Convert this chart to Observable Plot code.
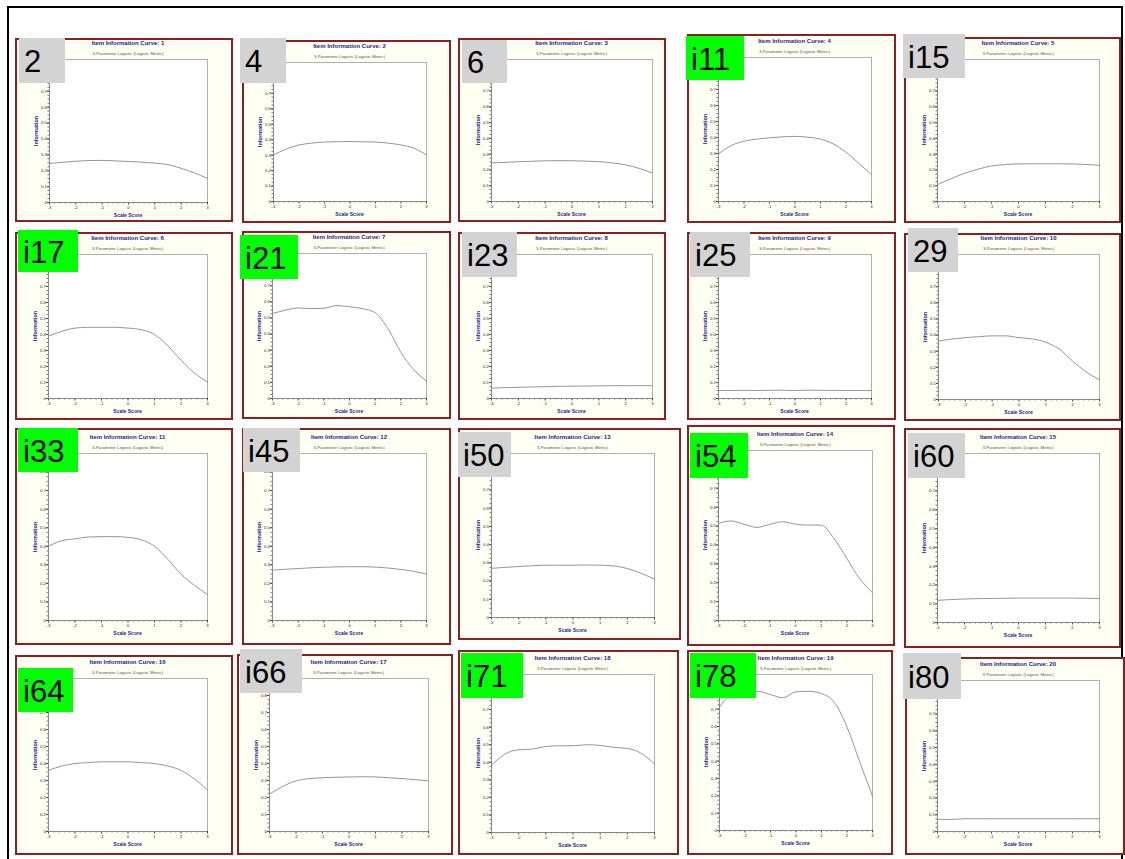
<!DOCTYPE html>
<html>
<head>
<meta charset="utf-8">
<script src="https://cdn.jsdelivr.net/npm/d3@7"></script>
<script src="https://cdn.jsdelivr.net/npm/@observablehq/plot@0.6"></script>
<style>
  html, body { margin: 0; padding: 0; background: #fff; }
  #root { position: relative; width: 1125px; height: 859px; overflow: hidden; background: #fff; }
  .abs { position: absolute; }
  .frame { box-sizing: border-box; border: 2px solid #8e1f1f; background: #fffff3; }
  .ttl { font-family: "Liberation Sans Narrow", "Liberation Sans", sans-serif; font-weight: bold; color: #1c1c8e; font-size: 6px; white-space: nowrap; transform: translate(-50%, -50%); }
  .sub { font-family: "Liberation Sans Narrow", "Liberation Sans", sans-serif; color: #555; font-size: 4.3px; white-space: nowrap; transform: translate(-50%, -50%); }
  .xl { font-family: "Liberation Sans Narrow", "Liberation Sans", sans-serif; font-weight: bold; color: #1c1c8e; font-size: 5px; white-space: nowrap; transform: translate(-50%, -50%); }
  .yl { font-family: "Liberation Sans Narrow", "Liberation Sans", sans-serif; font-weight: bold; color: #1c1c8e; font-size: 5.5px; white-space: nowrap; transform: translate(-50%, -50%) rotate(-90deg); }
  .lbl { box-sizing: border-box; font-family: "Liberation Sans", Arial, sans-serif; font-size: 31px; color: #000; display: flex; align-items: center; padding-left: 5px; padding-top: 3px; }
</style>
</head>
<body>
<div id="root"></div>
<script>
// ---- data ----
const theta = [-3, -2.5, -2, -1.5, -1, -0.5, 0, 0.5, 1, 1.5, 2, 2.5, 3];
const xTicks = [-3, -2, -1, 0, 1, 2, 3];
const yTicks = [0, 0.1, 0.2, 0.3, 0.4, 0.5, 0.6, 0.7, 0.8];
const itemLabels = ["2", "4", "6", "i11", "i15", "i17", "i21", "i23", "i25", "29",
                    "i33", "i45", "i50", "i54", "i60", "i64", "i66", "i71", "i78", "i80"];
const highlighted = ["i11", "i17", "i21", "i33", "i54", "i64", "i71", "i78"];
const modelName = "3-Parameter Logistic (Logistic Metric)";

const info1  = [0.246, 0.253, 0.260, 0.264, 0.265, 0.262, 0.258, 0.254, 0.248, 0.238, 0.215, 0.186, 0.152];
const info2  = [0.302, 0.340, 0.366, 0.378, 0.385, 0.387, 0.388, 0.387, 0.385, 0.378, 0.366, 0.345, 0.302];
const info3  = [0.245, 0.248, 0.252, 0.255, 0.258, 0.259, 0.258, 0.256, 0.252, 0.245, 0.232, 0.210, 0.180];
const info4  = [0.298, 0.350, 0.377, 0.390, 0.398, 0.404, 0.407, 0.402, 0.390, 0.360, 0.308, 0.239, 0.168];
const info5  = [0.106, 0.145, 0.178, 0.205, 0.225, 0.234, 0.238, 0.239, 0.239, 0.239, 0.238, 0.235, 0.229];
const info6  = [0.390, 0.420, 0.440, 0.445, 0.445, 0.445, 0.440, 0.430, 0.400, 0.330, 0.240, 0.160, 0.105];
const info7  = [0.527, 0.548, 0.562, 0.558, 0.560, 0.577, 0.569, 0.558, 0.533, 0.433, 0.287, 0.179, 0.108];
const info8  = [0.065, 0.068, 0.070, 0.072, 0.074, 0.076, 0.077, 0.078, 0.079, 0.080, 0.080, 0.080, 0.080];
const info9  = [0.050, 0.050, 0.051, 0.050, 0.051, 0.052, 0.050, 0.052, 0.051, 0.051, 0.050, 0.050, 0.050];
const info10 = [0.363, 0.375, 0.384, 0.390, 0.395, 0.395, 0.384, 0.376, 0.355, 0.313, 0.238, 0.171, 0.123];
const info11 = [0.400, 0.430, 0.440, 0.450, 0.452, 0.452, 0.448, 0.435, 0.400, 0.330, 0.250, 0.190, 0.140];
const info12 = [0.272, 0.276, 0.280, 0.284, 0.287, 0.289, 0.290, 0.290, 0.288, 0.283, 0.275, 0.265, 0.250];
const info13 = [0.270, 0.275, 0.280, 0.284, 0.287, 0.287, 0.287, 0.288, 0.287, 0.283, 0.269, 0.243, 0.210];
const info14 = [0.514, 0.527, 0.509, 0.493, 0.509, 0.523, 0.510, 0.505, 0.505, 0.434, 0.328, 0.222, 0.147];
const info15 = [0.118, 0.122, 0.125, 0.127, 0.128, 0.129, 0.130, 0.130, 0.130, 0.130, 0.130, 0.129, 0.128];
const info16 = [0.360, 0.385, 0.400, 0.405, 0.410, 0.410, 0.410, 0.405, 0.400, 0.385, 0.360, 0.310, 0.245];
const info17 = [0.220, 0.265, 0.298, 0.311, 0.316, 0.319, 0.321, 0.322, 0.321, 0.316, 0.311, 0.305, 0.298];
const info18 = [0.384, 0.447, 0.471, 0.475, 0.490, 0.494, 0.494, 0.500, 0.496, 0.485, 0.479, 0.452, 0.390];
const info19 = [0.713, 0.785, 0.800, 0.803, 0.784, 0.766, 0.800, 0.803, 0.790, 0.740, 0.597, 0.395, 0.198];
const info20 = [0.072, 0.072, 0.076, 0.076, 0.076, 0.076, 0.076, 0.076, 0.076, 0.076, 0.076, 0.076, 0.076];

const infoSeries = [info1, info2, info3, info4, info5, info6, info7, info8, info9, info10,
                    info11, info12, info13, info14, info15, info16, info17, info18, info19, info20];

// ---- layout (screen geometry of each screenshot panel) ----
// frame [x0,y0,x1,y1], plot area [x0,y0,x1,y1], label box [x0,y0,x1,y1]
const frames = [
  [15,38,233,222],[242,40,451,223],[458,38,666,222],[687,34,896,223],[904,37,1121,223],
  [15,232,233,420],[242,231,451,419],[458,232,666,420],[687,232,896,420],[904,233,1121,421],
  [15,428,233,645],[242,428,451,645],[458,428,681,640],[687,425,895,646],[904,428,1121,648],
  [15,655,233,855],[237,654,453,855],[458,650,679,855],[687,650,893,855],[905,657,1125,855]
];
const plotAreas = [
  [49,59,207,202],[273,62,426,201],[491,59,652,201],[718,57,871,201],[937,59,1099,201],
  [48,254,207,398],[272,253,426,398],[491,254,652,398],[718,254,871,398],[938,254,1099,399],
  [48,453,207,620],[272,453,426,620],[491,453,654,617],[718,450,872,620],[937,453,1099,622],
  [48,678,207,831],[269,678,428,831],[491,674,654,832],[719,674,872,830],[937,680,1099,831]
];
const labelBoxes = [
  [19,38,65,83],[240,38,286,83],[462,40,507,83],[686,36,744,80],[903,34,965,78],
  [18,230,78,272],[240,235,298,279],[462,232,517,277],[690,232,750,277],[908,228,958,272],
  [18,428,78,472],[243,428,300,472],[458,432,511,477],[690,433,748,478],[908,433,965,478],
  [18,668,73,712],[240,649,302,693],[461,653,523,698],[690,653,756,698],[903,653,961,699]
];

const root = document.getElementById("root");

// outer black border
const outer = document.createElement("div");
outer.className = "abs";
Object.assign(outer.style, {left: "7px", top: "6px", width: "1116px", height: "870px",
  borderLeft: "2px solid #000", borderTop: "2px solid #000", borderRight: "2px solid #000", boxSizing: "border-box"});
root.appendChild(outer);

function addDiv(cls, x, y, text) {
  const d = document.createElement("div");
  d.className = "abs " + cls;
  d.style.left = x + "px";
  d.style.top = y + "px";
  d.textContent = text;
  root.appendChild(d);
  return d;
}

const fmtY = d => d === 0 ? "0" : d.toFixed(1);
const minorX = d3.range(-3, 3.0001, 0.2);
const minorY = d3.range(0, 0.9001, 0.025);

infoSeries.forEach((vals, i) => {
  const [fx0, fy0, fx1, fy1] = frames[i];
  const [px0, py0, px1, py1] = plotAreas[i];
  const [bx0, by0, bx1, by1] = labelBoxes[i];
  const data = theta.map((t, k) => ({theta: t, info: vals[k]}));

  const fr = document.createElement("div");
  fr.className = "abs frame";
  Object.assign(fr.style, {left: fx0 + "px", top: fy0 + "px", width: (fx1 - fx0) + "px", height: (fy1 - fy0) + "px"});
  root.appendChild(fr);

  const chart = Plot.plot({
    width: fx1 - fx0,
    height: fy1 - fy0,
    marginLeft: px0 - fx0,
    marginTop: py0 - fy0,
    marginRight: fx1 - px1,
    marginBottom: fy1 - py1,
    x: {domain: [-3, 3]},
    y: {domain: [0, 0.9]},
    style: {background: "transparent", fontFamily: "'Liberation Sans Narrow', 'Liberation Sans', sans-serif", fontSize: "4.3px", color: "#222"},
    marks: [
      Plot.frame({fill: "white", stroke: "#b0b0b0", strokeWidth: 1}),
      Plot.axisX(minorX, {tickSize: 1.5, tickFormat: () => "", stroke: "#777", label: null}),
      Plot.axisY(minorY, {tickSize: 1.5, tickFormat: () => "", stroke: "#777", label: null}),
      Plot.axisX(xTicks, {tickSize: 2.5, tickPadding: 1, tickFormat: d => String(d), stroke: "#444", fill: "#222", label: null}),
      Plot.axisY(yTicks, {tickSize: 2, tickPadding: 0.5, tickFormat: fmtY, stroke: "#444", fill: "#222", label: null}),
      Plot.ruleY([0], {stroke: "#888"}),
      Plot.ruleX([-3], {stroke: "#888"}),
      Plot.line(data, {x: "theta", y: "info", stroke: "#8a8a8a", strokeWidth: 0.9, curve: "monotone-x"})
    ]
  });
  chart.classList.add("abs");
  chart.style.left = fx0 + "px";
  chart.style.top = fy0 + "px";
  root.appendChild(chart);

  const cx = (px0 + px1) / 2;
  addDiv("ttl", cx, py0 - 16, "Item Information Curve: " + (i + 1));
  addDiv("sub", cx, py0 - 6, modelName);
  addDiv("xl", cx, py1 + 13, "Scale Score");
  addDiv("yl", px0 - 13, (py0 + py1) / 2, "Information");

  const lb = addDiv("lbl", bx0, by0, itemLabels[i]);
  lb.style.width = (bx1 - bx0) + "px";
  lb.style.height = (by1 - by0) + "px";
  lb.style.background = highlighted.includes(itemLabels[i]) ? "#00ff00" : "#d3d3d3";
});
</script>
</body>
</html>
